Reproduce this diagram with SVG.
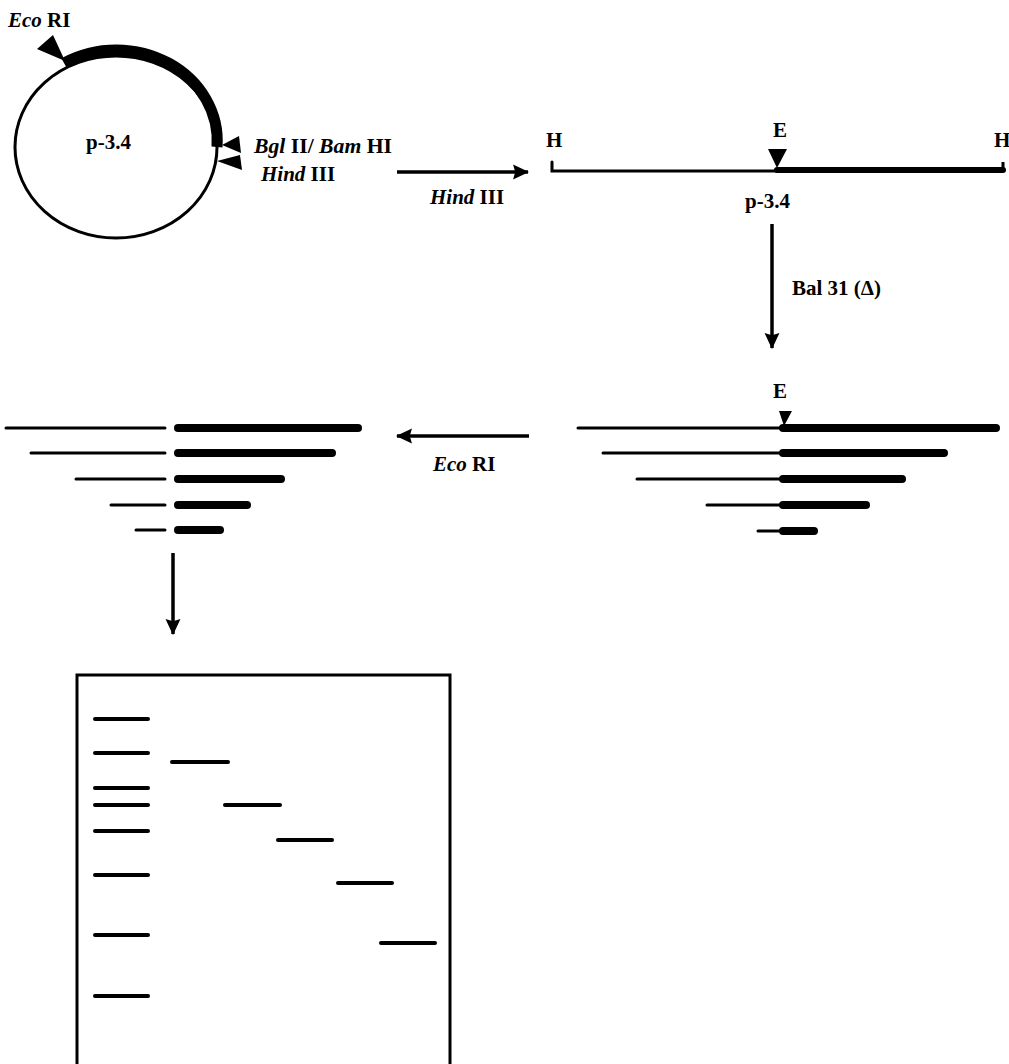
<svg xmlns="http://www.w3.org/2000/svg" width="1009" height="1064" viewBox="0 0 1009 1064">
<style>
.lbl{font-family:"Liberation Serif","Times New Roman",serif;font-weight:bold;font-size:21px;fill:#000}
.it{font-style:italic}
.thin{stroke:#000;stroke-width:3;stroke-linecap:round;fill:none}
.thick{stroke:#000;stroke-width:8;stroke-linecap:round;fill:none}
.band{stroke:#000;stroke-width:4;stroke-linecap:round;fill:none}
.arr{stroke:#000;stroke-width:3.5;fill:none;marker-end:url(#ah)}
</style>
<defs>
<marker id="ah" markerUnits="userSpaceOnUse" markerWidth="16" markerHeight="16" viewBox="0 0 15 14" refX="14" refY="7" orient="auto">
<path d="M0,0 L15,7 L0,14 L2,7 Z" fill="#000"/>
</marker>
</defs>
<rect width="1009" height="1064" fill="#fff"/>

<g id="plasmid">
<ellipse cx="116" cy="147" rx="101" ry="91" fill="none" stroke="#000" stroke-width="3"/>
<path d="M64,63 A101,91 0 0 1 217,147" fill="none" stroke="#000" stroke-width="11"/>
<polygon points="37,49 53,35 65,61" fill="#000"/>
<polygon points="222,145 239,136 241,153" fill="#000"/>
<polygon points="217,161 240,155 242,170" fill="#000"/>
<text class="lbl" x="8" y="27"><tspan class="it">Eco</tspan> RI</text>
<text class="lbl" x="86" y="149" font-size="22">p-3.4</text>
<text class="lbl" x="254" y="153" textLength="138" lengthAdjust="spacingAndGlyphs"><tspan class="it">Bgl</tspan> II/ <tspan class="it">Bam</tspan> HI</text>
<text class="lbl" x="261" y="181"><tspan class="it">Hind</tspan> III</text>
</g>

<g id="linear">
<path class="thin" d="M552,162 L552,171 L777,171"/>
<path d="M777,170 L1003,170" stroke="#000" stroke-width="6" stroke-linecap="round"/>
<path d="M1003,162 L1003,171" stroke="#000" stroke-width="3"/>
<polygon points="768,149 787,149 777,168" fill="#000"/>
<text class="lbl" x="546" y="147">H</text>
<text class="lbl" x="773" y="137">E</text>
<text class="lbl" x="994" y="147">H</text>
<text class="lbl" x="745" y="208" font-size="18">p-3.4</text>
</g>

<g id="bal31-fragments">
<polygon points="779,411 792,411 784,426" fill="#000"/>
<text class="lbl" x="773" y="398">E</text>
<line class="thin" x1="578" y1="428" x2="783" y2="428"/>
<line class="thick" x1="783" y1="428" x2="996" y2="428" stroke-width="7"/>
<line class="thin" x1="603" y1="453" x2="783" y2="453"/>
<line class="thick" x1="783" y1="453" x2="944" y2="453"/>
<line class="thin" x1="637" y1="479" x2="783" y2="479"/>
<line class="thick" x1="783" y1="479" x2="902" y2="479"/>
<line class="thin" x1="707" y1="505" x2="783" y2="505"/>
<line class="thick" x1="783" y1="505" x2="866" y2="505"/>
<line class="thin" x1="758" y1="531" x2="783" y2="531"/>
<line class="thick" x1="783" y1="531" x2="814" y2="531"/>
</g>

<g id="ecori-fragments">
<line class="thin" x1="6" y1="428" x2="165" y2="428"/>
<line class="thick" x1="178" y1="428" x2="358" y2="428"/>
<line class="thin" x1="31" y1="453" x2="165" y2="453"/>
<line class="thick" x1="178" y1="453" x2="332" y2="453"/>
<line class="thin" x1="76" y1="479" x2="165" y2="479"/>
<line class="thick" x1="178" y1="479" x2="281" y2="479"/>
<line class="thin" x1="111" y1="505" x2="165" y2="505"/>
<line class="thick" x1="178" y1="505" x2="247" y2="505"/>
<line class="thin" x1="136" y1="530" x2="165" y2="530"/>
<line class="thick" x1="178" y1="530" x2="220" y2="530"/>
</g>

<g id="gel">
<rect x="77" y="675" width="373" height="400" fill="none" stroke="#000" stroke-width="3"/>
<line class="band" x1="95" y1="719" x2="148" y2="719"/>
<line class="band" x1="95" y1="753" x2="148" y2="753"/>
<line class="band" x1="95" y1="788" x2="148" y2="788"/>
<line class="band" x1="95" y1="805" x2="148" y2="805"/>
<line class="band" x1="95" y1="831" x2="148" y2="831"/>
<line class="band" x1="95" y1="875" x2="148" y2="875"/>
<line class="band" x1="95" y1="935" x2="148" y2="935"/>
<line class="band" x1="95" y1="996" x2="148" y2="996"/>
<line class="band" x1="172" y1="762" x2="228" y2="762"/>
<line class="band" x1="225" y1="805" x2="280" y2="805"/>
<line class="band" x1="278" y1="840" x2="332" y2="840"/>
<line class="band" x1="338" y1="883" x2="392" y2="883"/>
<line class="band" x1="381" y1="943" x2="435" y2="943"/>
</g>

<g id="connectors">
<line class="arr" x1="397" y1="172" x2="528" y2="172"/>
<text class="lbl" x="430" y="204"><tspan class="it">Hind</tspan> III</text>
<line class="arr" x1="772" y1="224" x2="772" y2="348"/>
<text class="lbl" x="792" y="295" font-size="22">Bal 31 (Δ)</text>
<line class="arr" x1="529" y1="436" x2="397" y2="436"/>
<text class="lbl" x="433" y="471"><tspan class="it">Eco</tspan> RI</text>
<line class="arr" x1="173" y1="553" x2="173" y2="634"/>
</g>
</svg>
